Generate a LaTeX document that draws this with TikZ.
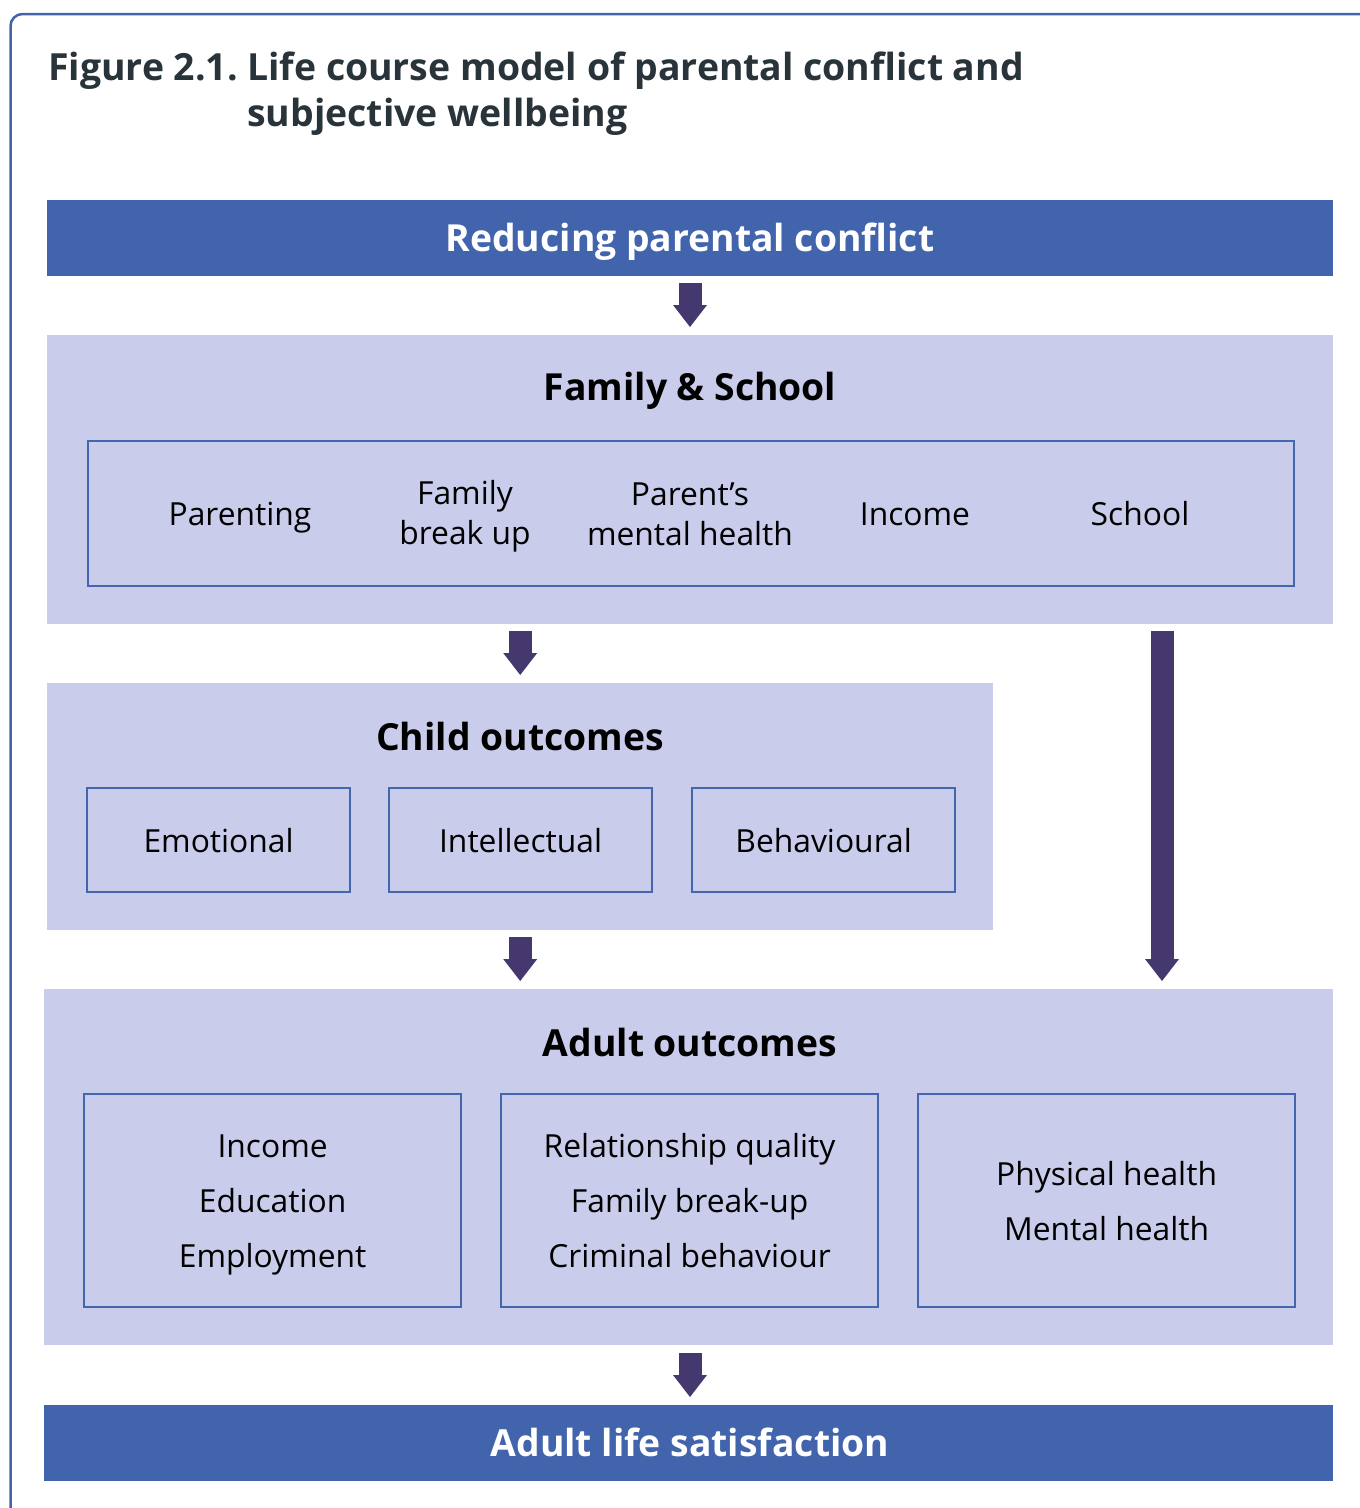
\documentclass[tikz,border=0pt]{standalone}
\usepackage{fontspec}
\setmainfont{Open Sans}
\usetikzlibrary{arrows.meta,positioning}

\definecolor{barblue}{HTML}{4264AC}
\definecolor{panelfill}{HTML}{C9CCEA}
\definecolor{boxline}{HTML}{4466AE}
\definecolor{arrowpurple}{HTML}{45386F}
\definecolor{titleink}{HTML}{29333A}

\newcommand{\bodyfont}{\fontsize{31.8}{40}\selectfont}
\newcommand{\headfont}{\fontsize{37.3}{42}\selectfont\bfseries}
\newcommand{\nodesc}[1]{\raisebox{0pt}[\height][0pt]{#1}}

\tikzset{
  bar/.style={fill=barblue, text=white, font=\headfont, anchor=north west, inner sep=0pt},
  panel/.style={fill=panelfill, anchor=north west, inner sep=0pt},
  heading/.style={font=\headfont, anchor=base},
  itembox/.style={draw=boxline, line width=2.2pt, anchor=north west, inner sep=0pt, font=\bodyfont, align=center},
  item/.style={font=\bodyfont, align=center},
  fatarrow/.style={draw=arrowpurple, line width=23pt,
    -{Triangle[width=34pt,length=22pt,line width=0pt]}},
}

\begin{document}
\begin{tikzpicture}[x=1pt, y=-1pt]
  \useasboundingbox (0,0) rectangle (1360,1508);

  % frame around the figure, running off the page at right and bottom
  \begin{scope}
    \clip (0,0) rectangle (1360,1508);
    \draw[barblue, line width=2.5pt, rounded corners=12pt] (10.5,14) rectangle (1420,1560);
  \end{scope}

  % caption with hanging indent
  \node[anchor=base west, font=\fontsize{37.4}{46}\selectfont\bfseries, text=titleink, inner sep=0pt]
    (figlabel) at (48,80) {Figure 2.1.};
  \node[anchor=base west, font=\fontsize{37.4}{46}\selectfont\bfseries, text=titleink, inner sep=0pt]
    (figline1) at (247,80) {Life course model of parental conflict and};
  \node[anchor=base west, font=\fontsize{37.4}{46}\selectfont\bfseries, text=titleink, inner sep=0pt]
    (figline2) at (247,126) {subjective wellbeing};

  % top bar
  \node[bar, minimum width=1286pt, minimum height=76pt] (reduce) at (47,200) {};
  \node[heading, text=white] at (690,251) {Reducing parental conflict};

  % family and school panel
  \node[panel, minimum width=1286pt, minimum height=289pt] (family) at (47,335) {};
  \node[heading] (familyhead) at (690,400) {Family \& School};
  \node[itembox, minimum width=1206pt, minimum height=145pt] (familyrow) at (87,440) {};
  \node[item, anchor=base] (parenting) at (240,525) {Parenting};
  \node[item] (breakup)   at (465,516) {Family\\break up};
  \node[item] (mental)    at (690,514) {Parent’s\\mental health};
  \node[item, anchor=base] (income)    at (915,525) {Income};
  \node[item, anchor=base] (school)    at (1140,525) {School};

  % child outcomes panel
  \node[panel, minimum width=946pt, minimum height=247pt] (child) at (47,683) {};
  \node[heading] (childhead) at (520,750) {Child outcomes};
  \node[itembox, minimum width=263pt, minimum height=104pt] (emotional)    at (86,787)  {Emotional};
  \node[itembox, minimum width=263pt, minimum height=104pt] (intellectual) at (388,787) {Intellectual};
  \node[itembox, minimum width=263pt, minimum height=104pt] (behavioural)  at (691,787) {Behavioural};

  % adult outcomes panel
  \node[panel, minimum width=1289pt, minimum height=356pt] (adult) at (44,989) {};
  \node[heading] (adulthead) at (690,1056) {Adult outcomes};
  \node[itembox, minimum width=377pt, minimum height=213pt, font=\fontsize{31.8}{55}\selectfont]
    (economic) at (83,1093) {\vphantom{l}Income\\Education\\\nodesc{Employment}};
  \node[itembox, minimum width=377pt, minimum height=213pt, font=\fontsize{31.8}{55}\selectfont]
    (relations) at (500,1093) {Relationship quality\\Family break-up\\Criminal behaviour};
  \node[itembox, minimum width=377pt, minimum height=213pt, font=\fontsize{31.8}{55}\selectfont]
    (health) at (917,1093) {Physical health\\Mental health};

  % bottom bar
  \node[bar, minimum width=1289pt, minimum height=76pt] (satisfaction) at (44,1405) {};
  \node[heading, text=white] at (690,1456) {Adult life satisfaction};

  % block arrows
  \coordinate (sidelink) at (1162,624);
  \draw[fatarrow, shorten <=7pt, shorten >=8pt] (reduce.south -| familyhead) -- (family.north -| familyhead);
  \draw[fatarrow, shorten <=7pt, shorten >=8pt] (family.south -| child.north) -- (child.north);
  \draw[fatarrow, shorten <=7pt, shorten >=8pt] (child.south) -- (adult.north -| child.south);
  \draw[fatarrow, shorten <=7pt, shorten >=8pt] (sidelink) -- (adult.north -| sidelink);
  \draw[fatarrow, shorten <=8pt, shorten >=8pt] (adult.south -| adulthead) -- (satisfaction.north -| adulthead);
\end{tikzpicture}
\end{document}
